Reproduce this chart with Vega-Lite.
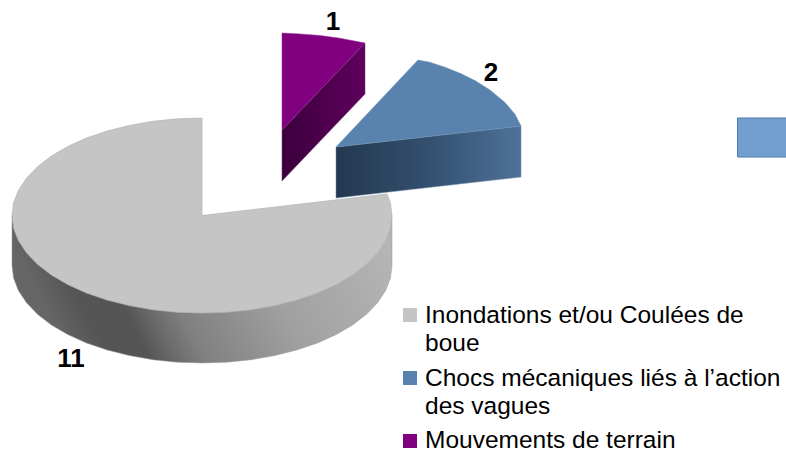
{"$schema":"https://vega.github.io/schema/vega-lite/v6.json","width":786,"height":451,"autosize":"none","padding":0,"background":"#ffffff","view":{"stroke":null},
"datasets":{
"grayside":[{"i":0,"x":12,"y":215.5},{"i":1,"x":12,"y":265.5},{"i":2,"x":13.6,"y":278.2},{"i":3,"x":18.5,"y":290.7},{"i":4,"x":26.5,"y":302.8},{"i":5,"x":37.5,"y":314.3},{"i":6,"x":51.3,"y":324.9},{"i":7,"x":67.6,"y":334.4},{"i":8,"x":86.3,"y":342.9},{"i":9,"x":107,"y":349.9},{"i":10,"x":129.3,"y":355.6},{"i":11,"x":152.8,"y":359.7},{"i":12,"x":177.2,"y":362.2},{"i":13,"x":202,"y":363},{"i":14,"x":226.8,"y":362.2},{"i":15,"x":251.2,"y":359.7},{"i":16,"x":274.7,"y":355.6},{"i":17,"x":297,"y":349.9},{"i":18,"x":317.7,"y":342.9},{"i":19,"x":336.4,"y":334.4},{"i":20,"x":352.7,"y":324.9},{"i":21,"x":366.5,"y":314.3},{"i":22,"x":377.5,"y":302.8},{"i":23,"x":385.5,"y":290.7},{"i":24,"x":390.4,"y":278.2},{"i":25,"x":392,"y":265.5},{"i":26,"x":392,"y":215.5},{"i":27,"x":12,"y":215.5}],
"graytop":[{"i":0,"x":202,"y":118},{"i":1,"x":177.2,"y":118.8},{"i":2,"x":152.8,"y":121.3},{"i":3,"x":129.3,"y":125.4},{"i":4,"x":107,"y":131.1},{"i":5,"x":86.3,"y":138.1},{"i":6,"x":67.6,"y":146.6},{"i":7,"x":51.3,"y":156.1},{"i":8,"x":37.5,"y":166.7},{"i":9,"x":26.5,"y":178.2},{"i":10,"x":18.5,"y":190.3},{"i":11,"x":13.6,"y":202.8},{"i":12,"x":12,"y":215.5},{"i":13,"x":13.6,"y":228.2},{"i":14,"x":18.5,"y":240.7},{"i":15,"x":26.5,"y":252.8},{"i":16,"x":37.5,"y":264.3},{"i":17,"x":51.3,"y":274.9},{"i":18,"x":67.6,"y":284.4},{"i":19,"x":86.3,"y":292.9},{"i":20,"x":107,"y":299.9},{"i":21,"x":129.3,"y":305.6},{"i":22,"x":152.8,"y":309.7},{"i":23,"x":177.2,"y":312.2},{"i":24,"x":202,"y":313},{"i":25,"x":226.8,"y":312.2},{"i":26,"x":251.2,"y":309.7},{"i":27,"x":274.7,"y":305.6},{"i":28,"x":297,"y":299.9},{"i":29,"x":317.7,"y":292.9},{"i":30,"x":336.4,"y":284.4},{"i":31,"x":352.7,"y":274.9},{"i":32,"x":366.5,"y":264.3},{"i":33,"x":377.5,"y":252.8},{"i":34,"x":385.5,"y":240.7},{"i":35,"x":390.4,"y":228.2},{"i":36,"x":392,"y":215.5},{"i":37,"x":390.4,"y":202.8},{"i":38,"x":387,"y":194},{"i":39,"x":202,"y":215.5},{"i":40,"x":202,"y":118}],
"blueside":[{"i":0,"x":336,"y":147},{"i":1,"x":336,"y":198},{"i":2,"x":521,"y":177},{"i":3,"x":521,"y":126},{"i":4,"x":336,"y":147}],
"bluetop":[{"i":0,"x":336,"y":147},{"i":1,"x":418,"y":60},{"i":2,"x":430,"y":62.3},{"i":3,"x":445,"y":67.2},{"i":4,"x":460,"y":73.2},{"i":5,"x":475,"y":80.6},{"i":6,"x":490,"y":90},{"i":7,"x":505,"y":102.4},{"i":8,"x":515,"y":114.3},{"i":9,"x":521,"y":126},{"i":10,"x":336,"y":147}],
"purpleside":[{"i":0,"x":282,"y":130},{"i":1,"x":282,"y":181},{"i":2,"x":365,"y":94},{"i":3,"x":365,"y":43},{"i":4,"x":282,"y":130}],
"purpletop":[{"i":0,"x":282,"y":130},{"i":1,"x":282,"y":33},{"i":2,"x":300,"y":33.9},{"i":3,"x":320,"y":35.5},{"i":4,"x":340,"y":38.2},{"i":5,"x":365,"y":43},{"i":6,"x":282,"y":130}],
"box":[{"x":737.5,"x2":790,"y":118,"y2":157}],
"values":[{"value":1,"x":333,"y":30},{"value":2,"x":491,"y":81},{"value":11,"x":71,"y":367}],
"legend":[{"cause":"Inondations et/ou Coulées de boue","x":410,"y":315},{"cause":"Chocs mécaniques liés à l’action des vagues","x":410,"y":378},{"cause":"Mouvements de terrain","x":410,"y":441}],
"legendtext":[{"t":"Inondations et/ou Coulées de","x":425,"y":323},{"t":"boue","x":425,"y":351},{"t":"Chocs mécaniques liés à l’action","x":425,"y":386},{"t":"des vagues","x":425,"y":414},{"t":"Mouvements de terrain","x":425,"y":448}]
},
"encoding":{"x":{"field":"x","type":"quantitative","scale":{"domain":[0,786],"nice":false,"zero":false},"axis":null},"y":{"field":"y","type":"quantitative","scale":{"domain":[451,0],"nice":false,"zero":false},"axis":null}},
"layer":[
{"data":{"name":"grayside"},"mark":{"type":"line","filled":true,"strokeWidth":0.5,"stroke":"#999999","fill":{"gradient":"linear","x1":0,"y1":0.2,"x2":1,"y2":0,"stops":[{"offset":0,"color":"#666666"},{"offset":0.1,"color":"#555555"},{"offset":0.2,"color":"#555555"},{"offset":0.27,"color":"#6c6c6c"},{"offset":0.34,"color":"#808080"},{"offset":0.6,"color":"#a0a0a0"},{"offset":0.95,"color":"#b5b5b5"}]}},"encoding":{"order":{"field":"i"}}},
{"data":{"name":"graytop"},"mark":{"type":"line","filled":true,"strokeWidth":0.75,"stroke":"#b5b5b5","fill":"#c5c5c5"},"encoding":{"order":{"field":"i"}}},
{"data":{"name":"blueside"},"mark":{"type":"line","filled":true,"strokeWidth":0.5,"stroke":"#6f8aa8","fill":{"gradient":"linear","x1":0,"y1":0,"x2":1,"y2":0,"stops":[{"offset":0,"color":"#243850"},{"offset":0.5,"color":"#33506f"},{"offset":1,"color":"#4f7299"}]}},"encoding":{"order":{"field":"i"}}},
{"data":{"name":"bluetop"},"mark":{"type":"line","filled":true,"strokeWidth":0.5,"stroke":"#6d90b5","fill":"#5a82ae"},"encoding":{"order":{"field":"i"}}},
{"data":{"name":"purpleside"},"mark":{"type":"line","filled":true,"strokeWidth":0.5,"stroke":"#6a3a6a","fill":{"gradient":"linear","x1":0,"y1":0,"x2":1,"y2":0,"stops":[{"offset":0,"color":"#3c003c"},{"offset":1,"color":"#5e005e"}]}},"encoding":{"order":{"field":"i"}}},
{"data":{"name":"purpletop"},"mark":{"type":"line","filled":true,"strokeWidth":0.5,"stroke":"#8f308f","fill":"#800080"},"encoding":{"order":{"field":"i"}}},
{"data":{"name":"box"},"mark":{"type":"rect","clip":true,"fill":"#729fcf","stroke":"#4f79ad","strokeWidth":1},"encoding":{"x2":{"field":"x2"},"y2":{"field":"y2"}}},
{"data":{"name":"values"},"mark":{"type":"text","font":"Liberation Sans","fontWeight":"bold","fontSize":26,"align":"center","baseline":"alphabetic","color":"#000000"},"encoding":{"text":{"field":"value","type":"quantitative"}}},
{"data":{"name":"legend"},"mark":{"type":"point","shape":"square","filled":true,"size":196,"opacity":1},"encoding":{"color":{"field":"cause","type":"nominal","legend":null,"scale":{"domain":["Inondations et/ou Coulées de boue","Chocs mécaniques liés à l’action des vagues","Mouvements de terrain"],"range":["#c5c5c5","#5a82ae","#800080"]}}}},
{"data":{"name":"legendtext"},"mark":{"type":"text","font":"Liberation Sans","fontSize":24.5,"align":"left","baseline":"alphabetic","color":"#000000"},"encoding":{"text":{"field":"t"}}}
]}
